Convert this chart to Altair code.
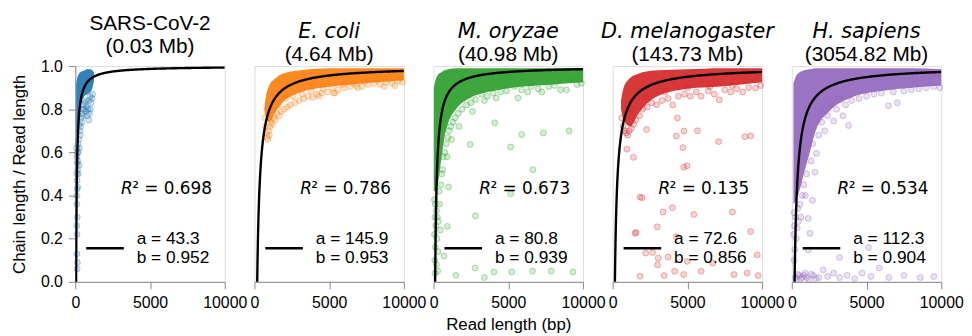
import altair as alt
import pandas as pd

# ---------------- data ----------------
SPECIES = ["SARS-CoV-2", "E. coli", "M. oryzae", "D. melanogaster", "H. sapiens"]
SPECIES_ITALIC = [False, True, True, True, True]
GENOME_SIZE = ["(0.03 Mb)", "(4.64 Mb)", "(40.98 Mb)", "(143.73 Mb)", "(3054.82 Mb)"]
FIT_A = [43.3, 145.9, 80.8, 72.6, 112.3]
FIT_B = [0.952, 0.953, 0.939, 0.856, 0.904]
R_SQUARED = [0.698, 0.786, 0.673, 0.135, 0.534]
COLORS = ["#1f77b4", "#ff7f0e", "#2ca02c", "#d62728", "#9467bd"]
X_TICKS = [0, 5000, 10000]
Y_TICKS = [0.0, 0.2, 0.4, 0.6, 0.8, 1.0]

# saturated cores of the point clouds (read length, lower, upper ratio)
SARS_CORE_X = [60, 150, 250, 400, 600, 800, 1000, 1150, 1250]
SARS_CORE_LO = [0.66, 0.72, 0.79, 0.83, 0.86, 0.87, 0.88, 0.90, 0.93]
SARS_CORE_HI = [0.92, 0.95, 0.965, 0.975, 0.98, 0.985, 0.985, 0.98, 0.97]

ECOLI_CORE_X = [650, 770, 990, 1430, 1870, 2970, 5170, 7370, 10000]
ECOLI_CORE_LO = [0.80, 0.76, 0.74, 0.79, 0.83, 0.875, 0.905, 0.92, 0.935]
ECOLI_CORE_HI = [0.80, 0.86, 0.91, 0.945, 0.965, 0.98, 0.99, 0.99, 0.99]

MORY_CORE_X = [20, 150, 300, 500, 700, 1000, 1500, 2500, 4000, 6000, 8000, 10000]
MORY_CORE_LO = [0.42, 0.42, 0.46, 0.56, 0.66, 0.74, 0.80, 0.855, 0.885, 0.905, 0.915, 0.925]
MORY_CORE_HI = [0.90, 0.94, 0.96, 0.97, 0.98, 0.985, 0.99, 0.99, 0.99, 0.99, 0.99, 0.99]

DMEL_CORE_X = [560, 730, 1170, 1720, 2830, 5030, 7240, 10000]
DMEL_CORE_LO = [0.80, 0.75, 0.72, 0.78, 0.855, 0.895, 0.905, 0.925]
DMEL_CORE_HI = [0.84, 0.90, 0.945, 0.965, 0.98, 0.985, 0.99, 0.99]

HSAP_CORE_X = [110, 300, 500, 800, 1200, 1600, 2500, 4000, 6000, 8000, 10000]
HSAP_CORE_LO = [0.36, 0.38, 0.42, 0.50, 0.60, 0.70, 0.79, 0.855, 0.885, 0.90, 0.91]
HSAP_CORE_HI = [0.92, 0.955, 0.97, 0.98, 0.985, 0.99, 0.99, 0.99, 0.99, 0.99, 0.985]

# individual reads outside the saturated cores (read length, ratio)
SARS_POINTS = [
    (90, 0.62), (110, 0.58), (130, 0.55), (100, 0.50), (150, 0.52), (120, 0.47),
    (170, 0.56), (140, 0.60), (200, 0.60), (180, 0.64), (230, 0.66), (260, 0.62),
    (300, 0.70), (280, 0.73), (350, 0.72), (330, 0.68), (400, 0.76), (450, 0.78),
    (420, 0.74), (500, 0.80), (550, 0.82), (520, 0.77), (600, 0.80), (650, 0.83),
    (700, 0.79), (680, 0.84), (750, 0.81), (800, 0.77), (850, 0.80), (900, 0.75),
    (950, 0.78), (1000, 0.80), (1050, 0.83), (1100, 0.85), (1150, 0.87), (1000, 0.86),
    (900, 0.84), (120, 0.43), (110, 0.40), (100, 0.36), (130, 0.30), (95, 0.26),
    (115, 0.22), (105, 0.13), (140, 0.09), (125, 0.06), (160, 0.44), (200, 0.50),
    (240, 0.54),
]
ECOLI_POINTS = [
    (700, 0.76), (750, 0.72), (800, 0.69), (850, 0.67), (900, 0.66), (950, 0.70),
    (1000, 0.68), (1050, 0.72), (1100, 0.74), (1200, 0.73), (1300, 0.76), (1400, 0.75),
    (1500, 0.78), (1650, 0.77), (1800, 0.79), (2000, 0.80), (2200, 0.81), (2400, 0.82),
    (2700, 0.83), (3000, 0.84), (3300, 0.85), (3600, 0.86), (3900, 0.855), (4200, 0.87),
    (4500, 0.875), (4900, 0.88), (5300, 0.875), (5600, 0.89), (6000, 0.90), (6400, 0.905),
    (6800, 0.91), (7200, 0.905), (7600, 0.915), (8000, 0.92), (8400, 0.915), (8800, 0.925),
    (9200, 0.92), (9600, 0.93), (9900, 0.925), (1200, 0.80), (1600, 0.82), (2100, 0.85),
    (2600, 0.86), (3200, 0.87), (3800, 0.885), (4600, 0.895), (5200, 0.90), (5900, 0.915),
    (6600, 0.92), (7400, 0.93), (8200, 0.935), (9000, 0.94), (9800, 0.945), (5400, 0.876),
    (6900, 0.90), (8700, 0.905), (9400, 0.91), (4300, 0.86),
]
MORY_POINTS = [
    (60, 0.38), (120, 0.36), (200, 0.33), (90, 0.30), (260, 0.30), (150, 0.26),
    (320, 0.28), (60, 0.22), (220, 0.20), (120, 0.16), (300, 0.14), (80, 0.10),
    (200, 0.08), (100, 0.04), (280, 0.05), (400, 0.36), (450, 0.24), (380, 0.42),
    (500, 0.45), (550, 0.50), (600, 0.52), (650, 0.58), (750, 0.60), (850, 0.64),
    (950, 0.67), (1050, 0.70), (1150, 0.72), (1300, 0.74), (1450, 0.76), (1650, 0.78),
    (1900, 0.80), (2200, 0.82), (2500, 0.83), (2800, 0.845), (3200, 0.87), (3600, 0.86),
    (4000, 0.875), (4200, 0.852), (4500, 0.88), (4900, 0.885), (5430, 0.905), (5650, 0.852),
    (5900, 0.89), (6300, 0.88), (6530, 0.905), (7000, 0.895), (7240, 0.88), (7700, 0.905),
    (8100, 0.91), (8500, 0.89), (8900, 0.89), (9200, 0.935), (9600, 0.915), (9900, 0.92),
    (1200, 0.66), (900, 0.58), (1700, 0.72), (2600, 0.79), (3400, 0.84),
    (4100, 0.737), (2450, 0.637), (5160, 0.625), (5900, 0.683), (7350, 0.69), (9070, 0.70),
    (6650, 0.52), (5160, 0.408), (2800, 0.306), (920, 0.257), (2780, 0.064), (4040, 0.046),
    (5230, 0.046), (6620, 0.05), (7880, 0.05), (9330, 0.046), (1500, 0.03), (3400, 0.02),
    (700, 0.12), (1000, 0.44),
]
DMEL_POINTS = [
    (600, 0.76), (700, 0.72), (800, 0.70), (900, 0.69), (1000, 0.68), (1100, 0.70),
    (1250, 0.71), (1400, 0.73), (1550, 0.75), (1800, 0.77), (2000, 0.80), (2300, 0.81),
    (2600, 0.83), (2940, 0.821), (3300, 0.84), (3700, 0.85), (4020, 0.82), (4400, 0.86),
    (4800, 0.87), (5200, 0.86), (5600, 0.88), (5920, 0.86), (6400, 0.885), (6800, 0.87),
    (7130, 0.844), (7500, 0.89), (7900, 0.88), (8300, 0.895), (8700, 0.88), (9100, 0.90),
    (9560, 0.898), (9900, 0.91), (1300, 0.80), (2200, 0.86), (3500, 0.88), (5000, 0.90),
    (6500, 0.905), (8000, 0.91),
    (2270, 0.706), (4330, 0.76), (4260, 0.676), (4770, 0.699), (4700, 0.622), (7090, 0.65),
    (8850, 0.673), (9230, 0.676), (950, 0.615), (1390, 0.577), (4750, 0.531), (4970, 0.538),
    (1830, 0.393), (3380, 0.324), (4000, 0.344), (5430, 0.312), (8010, 0.324), (2980, 0.255),
    (1570, 0.229), (4260, 0.21), (9230, 0.233), (2210, 0.133), (2670, 0.136), (3050, 0.11),
    (3710, 0.115), (3000, 0.079), (3440, 0.029), (4150, 0.049), (4750, 0.034), (4990, 0.095),
    (5920, 0.049), (6690, 0.087), (8120, 0.034), (9000, 0.041), (9670, 0.125), (9730, 0.029),
    (1830, 0.026), (5670, 0.70), (1970, 0.39), (1500, 0.225),
]
HSAP_POINTS = [
    (150, 0.32), (250, 0.30), (400, 0.34), (180, 0.26), (350, 0.25), (550, 0.36),
    (120, 0.22), (300, 0.20), (450, 0.28), (200, 0.15), (600, 0.30), (150, 0.10),
    (700, 0.40), (800, 0.45), (1100, 0.294), (1220, 0.225), (1100, 0.148), (1390, 0.378),
    (1550, 0.508), (1650, 0.595), (900, 0.40), (1000, 0.50), (1300, 0.56), (1400, 0.64),
    (1800, 0.68), (2000, 0.74), (2210, 0.70), (2400, 0.77), (2800, 0.745), (3000, 0.80),
    (3420, 0.77), (3800, 0.725), (3600, 0.82), (4000, 0.84), (4500, 0.85), (5000, 0.86),
    (5500, 0.87), (6000, 0.875), (6470, 0.816), (7060, 0.83), (6800, 0.88), (7500, 0.885),
    (8000, 0.89), (8500, 0.895), (9000, 0.90), (9500, 0.905), (9900, 0.90), (2000, 0.79),
    (2600, 0.82), (3300, 0.845),
    (250, 0.02), (400, 0.035), (600, 0.015), (800, 0.03), (1000, 0.02), (1300, 0.035),
    (1600, 0.015), (2100, 0.056), (2400, 0.025), (2800, 0.04), (3200, 0.113), (3200, 0.02),
    (3700, 0.03), (4200, 0.015), (4700, 0.04), (5140, 0.159), (5300, 0.025), (5850, 0.064),
    (6500, 0.02), (7500, 0.03), (8600, 0.02), (9500, 0.025), (300, 0.01), (500, 0.03),
    (700, 0.02), (900, 0.04), (1150, 0.01), (1450, 0.03), (1800, 0.02),
]

CORES = [
    (SARS_CORE_X, SARS_CORE_LO, SARS_CORE_HI),
    (ECOLI_CORE_X, ECOLI_CORE_LO, ECOLI_CORE_HI),
    (MORY_CORE_X, MORY_CORE_LO, MORY_CORE_HI),
    (DMEL_CORE_X, DMEL_CORE_LO, DMEL_CORE_HI),
    (HSAP_CORE_X, HSAP_CORE_LO, HSAP_CORE_HI),
]
POINTS = [SARS_POINTS, ECOLI_POINTS, MORY_POINTS, DMEL_POINTS, HSAP_POINTS]

# ---------------- styling ----------------
W, H = 151, 218
SANS = "Liberation Sans"
MATH = "DejaVu Sans"


def make_panel(i):
    color = COLORS[i]
    a, b = FIT_A[i], FIT_B[i]
    xs = alt.Scale(domain=[0, 10000], nice=False, zero=False)
    ys = alt.Scale(domain=[0, 1], nice=False)
    x_axis = alt.Axis(
        values=X_TICKS, format="d", labelFlush=False, grid=False,
        tickSize=7, labelPadding=6, labelFontSize=16, labelFont=SANS,
        title="Read length (bp)" if i == 2 else None,
        titleFontSize=17, titleFont=SANS, titleFontWeight="normal", titlePadding=6,
    )
    if i == 0:
        y_axis = alt.Axis(
            values=Y_TICKS, format=".1f", grid=False, tickSize=7, labelPadding=6,
            labelFontSize=16, labelFont=SANS,
            title="Chain length / Read length", titleFontSize=17, titleFont=SANS,
            titleFontWeight="normal", titlePadding=12,
        )
    else:
        y_axis = None
    X = lambda f: alt.X(f, scale=xs, axis=x_axis)
    Y = lambda f: alt.Y(f, scale=ys, axis=y_axis)

    cx, clo, chi = CORES[i]
    core_df = pd.DataFrame({"x": cx, "lo": clo, "hi": chi})
    core = alt.Chart(core_df).mark_area(
        color=color, opacity=0.92, interpolate="monotone"
    ).encode(x=X("x:Q"), y=Y("lo:Q"), y2="hi:Q")

    pts_df = pd.DataFrame(POINTS[i], columns=["x", "y"])
    pts = alt.Chart(pts_df).mark_point(
        shape="circle", filled=True, size=36, fill=color, stroke=color,
        fillOpacity=0.2, strokeOpacity=0.35, strokeWidth=1,
    ).encode(x=X("x:Q"), y=Y("y:Q"))

    curve = (
        alt.Chart(alt.sequence(0, 1.0001, 0.0025, as_="t"))
        .transform_calculate(x="pow(10, 1.5 + 2.5 * datum.t)")
        .transform_calculate(y=f"1 - {a} * pow(datum.x, -{b})")
        .mark_line(color="black", strokeWidth=2.4, clip=True)
        .encode(x=X("x:Q"), y=Y("y:Q"))
    )

    params = pd.DataFrame({
        "a_label": [f"a = {a}"],
        "b_label": [f"b = {b}"],
        "r_label": [f"\u00b2 = {R_SQUARED[i]:.3f}"],
        "r_sym": ["R"],
    })
    base = alt.Chart(params)
    leg_line = base.mark_rule(color="black", strokeWidth=2.4).encode(
        x=alt.value(11), x2=alt.value(49), y=alt.value(184)
    )
    a_txt = base.mark_text(align="left", baseline="middle", font=SANS, fontSize=17.5,
                           color="black").encode(x=alt.value(62), y=alt.value(175), text="a_label:N")
    b_txt = base.mark_text(align="left", baseline="middle", font=SANS, fontSize=17.5,
                           color="black").encode(x=alt.value(62), y=alt.value(194), text="b_label:N")
    r_txt = base.mark_text(align="right", baseline="middle", font=MATH, fontSize=17,
                           color="black").encode(x=alt.value(W - 13), y=alt.value(124), text="r_label:N")
    r_sym = base.mark_text(align="right", baseline="middle", font=MATH, fontSize=17,
                           fontStyle="italic", color="black").encode(
        x=alt.value(W - 13 - 80), y=alt.value(124), text="r_sym:N")

    title = alt.TitleParams(
        text=SPECIES[i], subtitle=GENOME_SIZE[i],
        font=MATH if SPECIES_ITALIC[i] else SANS,
        fontStyle="italic" if SPECIES_ITALIC[i] else "normal",
        fontSize=21, fontWeight="normal", color="black",
        subtitleFont=SANS, subtitleFontSize=21, subtitleColor="black",
        subtitlePadding=2, anchor="middle", offset=1,
    )
    return alt.layer(core, pts, curve, leg_line, a_txt, b_txt, r_txt, r_sym).properties(
        width=W, height=H, title=title
    )


chart = (
    alt.hconcat(*[make_panel(i) for i in range(5)], spacing=30, bounds="flush")
    .properties(padding={"left": 2, "top": 3, "right": 0, "bottom": 0})
    .configure_view(stroke="black", strokeWidth=1)
    .configure_axis(domainColor="black", tickColor="black", labelColor="black",
                    titleColor="black", domainWidth=1, tickWidth=1)
    .configure(background="white")
)

chart.save("out.html", embed_options={"renderer": "svg", "actions": False})
